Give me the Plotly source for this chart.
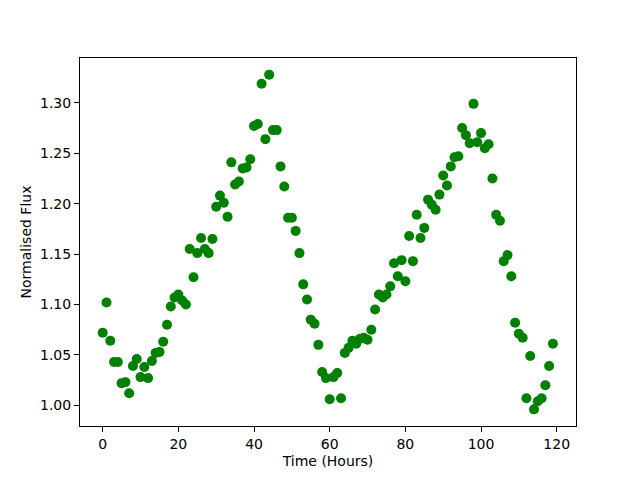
import plotly.graph_objects as go

time_hours = list(range(120))
flux = [
    1.072, 1.102, 1.064, 1.043, 1.043, 1.022, 1.023, 1.012, 1.039, 1.046,
    1.028, 1.038, 1.027, 1.044, 1.052, 1.053, 1.063, 1.080, 1.098, 1.107,
    1.110, 1.104, 1.100, 1.155, 1.127, 1.151, 1.166, 1.155, 1.151, 1.165,
    1.197, 1.208, 1.201, 1.187, 1.241, 1.219, 1.222, 1.235, 1.236, 1.244,
    1.277, 1.279, 1.319, 1.264, 1.328, 1.273, 1.273, 1.237, 1.217, 1.186,
    1.186, 1.173, 1.151, 1.120, 1.105, 1.085, 1.081, 1.060, 1.033, 1.027,
    1.006, 1.028, 1.032, 1.007, 1.052, 1.057, 1.064, 1.061, 1.066, 1.067,
    1.065, 1.075, 1.095, 1.110, 1.107, 1.110, 1.118, 1.141, 1.128, 1.144,
    1.123, 1.168, 1.143, 1.189, 1.166, 1.176, 1.204, 1.199, 1.194, 1.209,
    1.228, 1.218, 1.237, 1.246, 1.247, 1.275, 1.268, 1.260, 1.299, 1.261,
    1.270, 1.255, 1.259, 1.225, 1.189, 1.183, 1.143, 1.149, 1.128, 1.082,
    1.071, 1.067, 1.007, 1.049, 0.996, 1.004, 1.007, 1.020, 1.039, 1.061,
]

fig = go.Figure(go.Scatter(
    x=time_hours, y=flux, mode="markers",
    marker=dict(color="#008000", size=10, line=dict(width=0)),
))

axis_common = dict(
    showline=True, linecolor="black", linewidth=1, mirror=True,
    ticks="outside", ticklen=5, tickwidth=1, tickcolor="black",
    showgrid=False, zeroline=False,
    tickfont=dict(family="DejaVu Sans", size=14, color="black"),
    title_font=dict(family="DejaVu Sans", size=14, color="black"),
)

fig.update_xaxes(range=[-6.0, 125.1], dtick=20, tick0=0,
                 title_text="Time (Hours)", title_standoff=5, **axis_common)
fig.update_yaxes(range=[0.9795, 1.3445], dtick=0.05, tick0=1.0, tickformat=".2f",
                 title_text="Normalised Flux", title_standoff=5, **axis_common)

fig.update_layout(
    width=640, height=480,
    margin=dict(l=72, r=72, t=50, b=62),
    paper_bgcolor="white", plot_bgcolor="white",
    showlegend=False,
    font=dict(family="DejaVu Sans", size=14, color="black"),
)

fig.write_html("out.html")
